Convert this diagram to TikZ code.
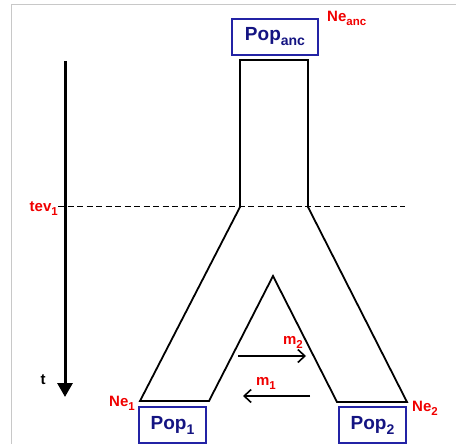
\documentclass[tikz,border=0pt]{standalone}
\usepackage{fontspec}
\setmainfont{Liberation Sans}
\usetikzlibrary{arrows.meta}
\definecolor{popblue}{RGB}{35,35,165}
\definecolor{poptext}{RGB}{20,20,130}
\definecolor{labred}{RGB}{240,0,0}
\definecolor{framegray}{RGB}{200,200,200}
\newcommand{\rsub}[1]{\raisebox{-4pt}{\fontsize{11.5}{12}\selectfont #1}}
\newcommand{\psub}[1]{\raisebox{-5pt}{\fontsize{14}{15}\selectfont #1}}
\tikzset{
  popbox/.style={draw=popblue, line width=1.4pt, minimum width=#1, minimum height=36pt, inner sep=0pt, text=poptext, font=\fontsize{19}{22}\selectfont\bfseries},
  redlab/.style={text=labred, font=\fontsize{15}{18}\selectfont\bfseries, inner sep=0pt},
  shapeline/.style={line width=1.8pt, line join=miter},
  migarrow/.style={line width=1.8pt, -{Straight Barb[length=7pt,width=13pt,line width=1.6pt]}},
  timearrow/.style={line width=3pt, -{Triangle[length=14pt,width=15pt]}},
}
\begin{document}
\begin{tikzpicture}[x=1pt,y=-1pt]
\useasboundingbox (0,0) rectangle (456,444);
% frame
\draw[framegray, line width=1.2pt] (456,4.5) -- (11.5,4.5) -- (11.5,444);
% time axis
\coordinate (tstart) at (65,61);
\coordinate (tend) at (65,397);
\draw[timearrow] (tstart) -- (tend);
\node[font=\fontsize{15}{18}\selectfont\bfseries, inner sep=0pt] (tlab) at (43,380) {t};
% tev line
\node[redlab, anchor=east] (tev) at (58,209) {tev\rsub{1}};
\coordinate (dashend) at (405,206);
\draw[dashed, dash pattern=on 6pt off 3.5pt, line width=0.8pt] (58,206) -- (dashend);
% population shape
\coordinate (ancTL) at (240,60);
\coordinate (ancTR) at (308,60);
\coordinate (splitL) at (240,207);
\coordinate (splitR) at (308,207);
\coordinate (footLo) at (140,401);
\coordinate (footLi) at (209,401);
\coordinate (apex) at (273,276);
\coordinate (footRi) at (337,402);
\coordinate (footRo) at (407,402);
\draw[shapeline] (ancTL) -- (splitL) -- (footLo) -- (footLi) -- (apex) -- (footRi) -- (footRo) -- (splitR) -- (ancTR) -- cycle;
% boxes
\node[popbox=86pt] (popanc) at (275,37) {Pop\psub{anc}};
\node[popbox=67pt] (pop1) at (172.5,425) {Pop\psub{1}};
\node[popbox=67pt] (pop2) at (372.5,425) {Pop\psub{2}};
% Ne labels
\node[redlab, anchor=west] (neanc) at (327,18) {Ne\rsub{anc}};
\node[redlab, anchor=east] (ne1) at (135,403) {Ne\rsub{1}};
\node[redlab, anchor=west] (ne2) at (412,408) {Ne\rsub{2}};
% migration arrows
\coordinate (m2s) at (238,356);
\coordinate (m2e) at (306,356);
\draw[migarrow] (m2s) -- (m2e);
\node[redlab] (m2lab) at (293,342) {m\rsub{2}};
\coordinate (m1s) at (310,396);
\coordinate (m1e) at (243,396);
\draw[migarrow] (m1s) -- (m1e);
\node[redlab] (m1lab) at (266,383) {m\rsub{1}};
\end{tikzpicture}
\end{document}
